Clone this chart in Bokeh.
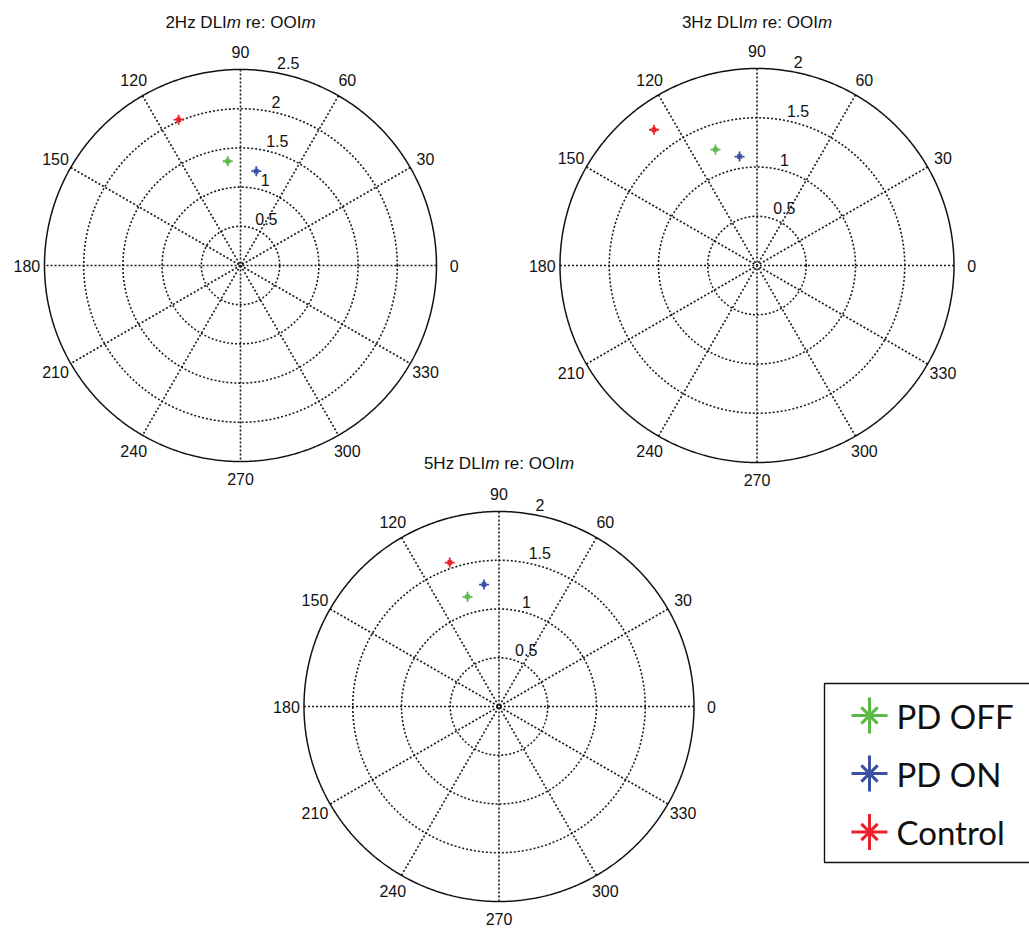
import numpy as np
from bokeh.plotting import figure
from bokeh.models import Range1d
from bokeh.core.properties import value
from bokeh.embed import file_html
from bokeh.resources import INLINE

# ---------------- data ----------------
freqs = ["2Hz", "3Hz", "5Hz"]
r_max = [2.5, 2.0, 2.0]
r_step = 0.5
angle_ticks = [0, 30, 60, 90, 120, 150, 180, 210, 240, 270, 300, 330]

series_names = ["PD OFF", "PD ON", "Control"]
series_colors = ["#5cb947", "#3b4fa3", "#ea2228"]
pd_off_r = [1.34, 1.25, 1.17]
pd_off_theta = [97.0, 109.7, 106.0]
pd_on_r = [1.22, 1.12, 1.26]
pd_on_theta = [80.5, 99.1, 97.0]
control_r = [2.02, 1.73, 1.56]
control_theta = [113.0, 127.2, 108.9]

series_r = [pd_off_r, pd_on_r, control_r]
series_theta = [pd_off_theta, pd_on_theta, control_theta]

# ---------------- layout ----------------
W, H = 1029, 928
centers = [(240.0, 265.0), (756.5, 265.0), (498.5, 706.0)]
radius_px = [196.0, 197.0, 195.0]
label_factor = 1.09
title_dy = [243.0, 243.0, 243.0]

FONT = "Liberation Sans"
p = figure(width=W, height=H, x_range=Range1d(0, W), y_range=Range1d(H, 0),
           output_backend="svg", toolbar_location=None, min_border=0,
           x_axis_location=None, y_axis_location=None, outline_line_color=None,
           background_fill_color="white", border_fill_color="white")
p.grid.visible = False

# Arial advance widths (em/1000)
AW = {'2': 556, '3': 556, '5': 556, 'H': 722, 'z': 500, ' ': 278, 'D': 722, 'L': 556,
      'I': 278, 'm': 833, 'r': 333, 'e': 556, ':': 278, 'O': 778}

def tw(s, fs):
    return sum(AW.get(ch, 556) for ch in s) / 1000.0 * fs

tt = np.linspace(0, 2 * np.pi, 721)

for k in range(3):
    cx, cy = centers[k]
    R = radius_px[k]
    rm = r_max[k]
    sc = R / rm

    def to_xy(r, th_deg):
        th = np.deg2rad(np.asarray(th_deg, dtype=float))
        r = np.asarray(r, dtype=float)
        return cx + r * sc * np.cos(th), cy - r * sc * np.sin(th)

    # dotted rings
    rings = np.arange(r_step, rm + 1e-9, r_step)
    xs, ys = [], []
    for rv in rings[:-1]:
        xs.append(list(cx + rv * sc * np.cos(tt)))
        ys.append(list(cy - rv * sc * np.sin(tt)))
    # spokes
    for a in angle_ticks[:6]:
        x0, y0 = to_xy(rm, a)
        x1, y1 = to_xy(rm, a + 180)
        xs.append([float(x0), float(x1)])
        ys.append([float(y0), float(y1)])
    p.multi_line(xs, ys, line_color="#1a1a1a", line_width=1.6, line_dash="2 2")
    # outer solid circle
    p.line(cx + R * np.cos(tt), cy - R * np.sin(tt), line_color="#111111", line_width=1.5)

    # angle labels
    lx, ly = to_xy([rm * label_factor] * len(angle_ticks), angle_ticks)
    p.text(lx, ly, text=[str(a) for a in angle_ticks], text_align="center",
           text_baseline="middle", text_font=value(FONT), text_font_size="16px",
           text_color="#111111")

    # radius labels (at 82 degrees, bottom-aligned)
    rr = rings + r_step / 20.0
    rx, ry = to_xy(rr, [82.0] * len(rr))
    p.text(rx, ry, text=[("%g" % v) for v in rings], text_align="left",
           text_baseline="bottom", x_offset=9, text_font=value(FONT),
           text_font_size="16px", text_color="#111111")

    # title with italic m
    fs = 17
    pieces = [(freqs[k] + " DLI", "normal"), ("m", "italic"), ("re: OOI", "normal"), ("m", "italic")]
    gaps = [0, 0, tw(" ", fs), 0]
    total = sum(tw(s, fs) for s, _ in pieces) + sum(gaps)
    x = cx - total / 2.0
    ty = cy - title_dy[k]
    for (s, st), g in zip(pieces, gaps):
        x += g
        p.text([x], [ty], text=[s], text_align="left", text_baseline="middle",
               text_font=value(FONT), text_font_size=f"{fs}px", text_font_style=st,
               text_color="#111111")
        x += tw(s, fs)

    # data markers
    for si in range(3):
        mx, my = to_xy([series_r[si][k]], [series_theta[si][k]])
        p.scatter(mx, my, marker="cross", size=10, line_color=series_colors[si], line_width=1.8)
        p.scatter(mx, my, marker="x", size=6, line_color=series_colors[si], line_width=1.8)

# ---------------- legend ----------------
leg_left, leg_top, leg_bottom = 824.0, 683.0, 862.0
row_y = [715.0, 773.0, 831.5]
marker_x = 869.0
text_x = 896.0
p.quad(left=[leg_left], right=[1045.0], top=[leg_top], bottom=[leg_bottom],
       fill_color="white", line_color="#111111", line_width=1.4)
for i in range(3):
    p.scatter([marker_x], [row_y[i]], marker="cross", size=36, line_color=series_colors[i], line_width=3)
    p.scatter([marker_x], [row_y[i]], marker="x", size=23, line_color=series_colors[i], line_width=3)
p.text([text_x] * 3, row_y, text=series_names, text_align="left", text_baseline="middle",
       text_font=value("Lato"), text_font_size="33px", text_color="#111111")

open("out.html", "w").write(file_html(p, INLINE))
